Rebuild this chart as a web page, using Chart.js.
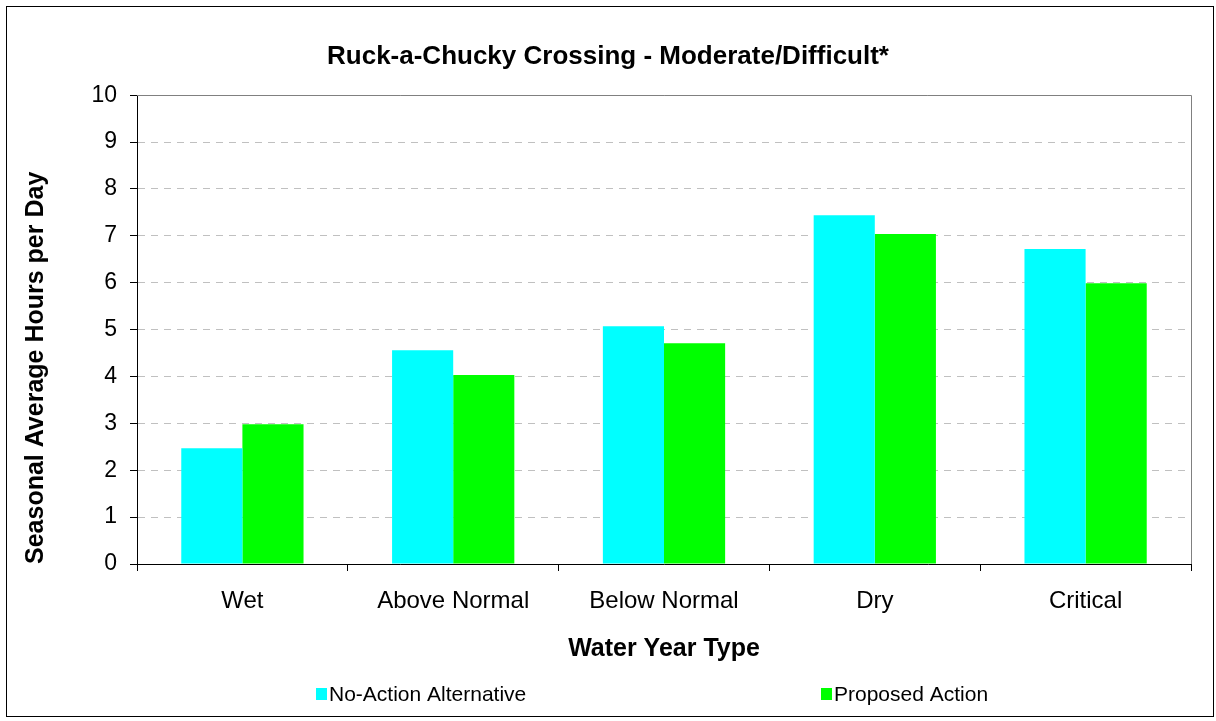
<!DOCTYPE html>
<html>
<head>
<meta charset="utf-8">
<script src="https://cdn.jsdelivr.net/npm/chart.js@4"></script>
<style>
  body { margin: 0; background: #fff; }
  canvas { display: block; }
</style>
</head>
<body>
<canvas id="chart" width="1216" height="721"></canvas>
<script>
const categories = ['Wet', 'Above Normal', 'Below Normal', 'Dry', 'Critical']
const noAction = [2.47, 4.56, 5.07, 7.44, 6.72]
const proposed = [2.98, 4.03, 4.71, 7.04, 5.99]
const seriesNames = ['No-Action Alternative', 'Proposed Action']
const seriesColors = ['#00ffff', '#00ff00']

const FONT = '"Liberation Sans", Arial, sans-serif'

// outer frame + plot border (top/right are grey in the original)
const framePlugin = {
    id: 'frame',
    beforeDraw(chart) {
        const ctx = chart.ctx
        ctx.save()
        ctx.fillStyle = '#fff'
        ctx.fillRect(0, 0, chart.width, chart.height)
        ctx.strokeStyle = '#000'
        ctx.lineWidth = 1
        ctx.strokeRect(6.5, 6.5, 1207, 710)
        ctx.restore()
    },
    afterDraw(chart) {
        const a = chart.chartArea
        const ctx = chart.ctx
        ctx.save()
        ctx.strokeStyle = '#808080'
        ctx.lineWidth = 1
        ctx.beginPath()
        ctx.moveTo(a.left, Math.round(a.top) + 0.5)
        ctx.lineTo(Math.round(a.right) + 0.5, Math.round(a.top) + 0.5)
        ctx.lineTo(Math.round(a.right) + 0.5, a.bottom)
        ctx.stroke()
        ctx.restore()
    }
}

// spread-out legend like the original
const legendPlugin = {
    id: 'spreadLegend',
    afterDraw(chart) {
        const ctx = chart.ctx
        const xs = [316, 821]
        const y = chart.height - 27
        ctx.save()
        ctx.font = '21px ' + FONT
        ctx.textBaseline = 'middle'
        chart.data.datasets.forEach((ds, i) => {
            ctx.fillStyle = ds.backgroundColor
            ctx.fillRect(xs[i], y - 6, 11, 12)
            ctx.fillStyle = '#000'
            ctx.fillText(ds.label, xs[i] + 13, y + 1)
        })
        ctx.restore()
    }
}

const ctx = document.getElementById('chart')
const myChart = new Chart(ctx, {
    type: 'bar',
    data: {
        labels: categories,
        datasets: [{
            label: seriesNames[0],
            data: noAction,
            backgroundColor: seriesColors[0],
            borderWidth: 0
        }, {
            label: seriesNames[1],
            data: proposed,
            backgroundColor: seriesColors[1],
            borderWidth: 0
        }]
    },
    options: {
        responsive: false,
        animation: false,
        layout: {
            padding: { left: 0, right: 0, top: 0, bottom: 57 }
        },
        datasets: {
            bar: { categoryPercentage: 0.58, barPercentage: 1 }
        },
        plugins: {
            legend: { display: false },
            tooltip: { enabled: false },
            title: {
                display: true,
                text: 'Ruck-a-Chucky Crossing - Moderate/Difficult*',
                color: '#000',
                font: { family: FONT, size: 26, weight: 'bold' },
                padding: { top: 41, bottom: 23 }
            }
        },
        scales: {
            x: {
                afterFit: (scale) => { scale.height = 100 },
                grid: {
                    offset: true,
                    drawOnChartArea: false,
                    drawTicks: true,
                    tickLength: 7,
                    tickColor: '#000'
                },
                border: { color: '#000', width: 1 },
                ticks: {
                    color: '#000',
                    font: { family: FONT, size: 24 },
                    padding: 16,
                    maxRotation: 0
                },
                title: {
                    display: true,
                    text: 'Water Year Type',
                    color: '#000',
                    font: { family: FONT, size: 25, weight: 'bold' },
                    padding: { top: 0, bottom: 0 }
                }
            },
            y: {
                min: 0,
                max: 10,
                afterFit: (scale) => { scale.width = 137 },
                grid: {
                    color: '#c0c0c0',
                    drawTicks: true,
                    tickLength: 7,
                    tickColor: '#000',
                    tickBorderDash: []
                },
                border: { color: '#000', width: 1, dash: [7, 6] },
                ticks: {
                    stepSize: 1,
                    color: '#000',
                    font: { family: FONT, size: 23 },
                    padding: 13
                },
                title: {
                    display: true,
                    text: 'Seasonal Average Hours per Day',
                    color: '#000',
                    align: 'start',
                    font: { family: FONT, size: 25, weight: 'bold' },
                    padding: { top: 21, bottom: 0 }
                }
            },
            // empty right-hand axis, only reserves the margin right of the plot
            yRight: {
                position: 'right',
                min: 0,
                max: 10,
                afterFit: (scale) => { scale.width = 25 },
                grid: { display: false, drawTicks: false },
                border: { display: false },
                ticks: { display: false }
            }
        }
    },
    plugins: [framePlugin, legendPlugin]
})
</script>
</body>
</html>
